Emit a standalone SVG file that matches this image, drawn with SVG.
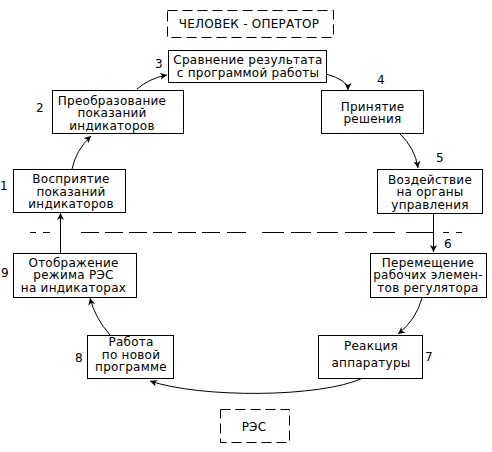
<svg xmlns="http://www.w3.org/2000/svg" width="492" height="452" viewBox="0 0 492 452">
<style>
.bx{fill:#fff;stroke:#000;stroke-width:1}
.dbx{fill:none;stroke:#000;stroke-width:1;stroke-dasharray:10 5}
.t{font-family:"DejaVu Sans","Liberation Sans",sans-serif;font-size:12px;letter-spacing:0.25px;fill:#000;text-anchor:middle}
.c{fill:none;stroke:#000;stroke-width:1}
.ar{marker-end:url(#ah)}
</style>
<defs>
<marker id="ah" markerUnits="userSpaceOnUse" markerWidth="8" markerHeight="8" refX="7" refY="3.5" orient="auto">
<path d="M0,0 L7,3.5 L0,7 L2,3.5 z" fill="#000"/>
</marker>
</defs>
<rect width="492" height="452" fill="#fff"/>

<g id="operator">
<rect class="dbx" x="167.5" y="10.5" width="166" height="27"/>
<text class="t" x="249" y="28">ЧЕЛОВЕК - ОПЕРАТОР</text>
</g>

<g id="res">
<rect class="dbx" x="220.5" y="409.5" width="69" height="33"/>
<text class="t" x="254" y="431">РЭС</text>
</g>

<g id="divider">
<path class="c" d="M30,232.5h6M43,232.5h7M81,232.5h18M105,232.5h18M129,232.5h18M153,232.5h19M178,232.5h18M202,232.5h18M227,232.5h19M262,232.5h22M291,232.5h20M317,232.5h21M345,232.5h22M373,232.5h22M406,232.5h27M443,232.5h6M456,232.5h6"/>
</g>

<g id="connectors">
<path class="c ar" d="M72,169 Q76,150 91,136"/>
<path class="c ar" d="M137,89 Q150,78 167,75"/>
<path class="c ar" d="M326,74 Q348,80 348,90"/>
<path class="c ar" d="M400,134 Q415,148 418,168"/>
<path class="c ar" d="M433.5,213 L433.5,252"/>
<path class="c ar" d="M422,298 Q416,320 398,334"/>
<path class="c ar" d="M363,378 C320,398 200,398 150,381"/>
<path class="c ar" d="M110,335 Q95,318 90,298"/>
<path class="c ar" d="M60.5,253 L60.5,213"/>
</g>

<g id="n3">
<rect class="bx" x="168.5" y="50.5" width="158" height="32"/>
<text class="t" x="248" y="64">Сравнение результата</text>
<text class="t" x="248" y="76.5">с программой работы</text>
<text class="t" x="159" y="68">3</text>
</g>

<g id="n2">
<rect class="bx" x="52.5" y="90.5" width="131" height="43"/>
<text class="t" x="112" y="104.5">Преобразование</text>
<text class="t" x="112" y="117">показаний</text>
<text class="t" x="112" y="129.5">индикаторов</text>
<text class="t" x="40" y="112">2</text>
</g>

<g id="n4">
<rect class="bx" x="321.5" y="90.5" width="102" height="43"/>
<text class="t" x="372.5" y="110.5">Принятие</text>
<text class="t" x="372.5" y="123">решения</text>
<text class="t" x="381" y="84">4</text>
</g>

<g id="n1">
<rect class="bx" x="13.5" y="169.5" width="112" height="43"/>
<text class="t" x="71" y="183">Восприятие</text>
<text class="t" x="71" y="195.5">показаний</text>
<text class="t" x="71" y="208">индикаторов</text>
<text class="t" x="4" y="190">1</text>
</g>

<g id="n5">
<rect class="bx" x="377.5" y="169.5" width="105" height="44"/>
<text class="t" x="430" y="183.5">Воздействие</text>
<text class="t" x="430" y="196">на органы</text>
<text class="t" x="430" y="208.5">управления</text>
<text class="t" x="440" y="162">5</text>
</g>

<g id="n9">
<rect class="bx" x="13.5" y="253.5" width="123" height="44"/>
<text class="t" x="73.5" y="266.5">Отображение</text>
<text class="t" x="73.5" y="279">режима РЭС</text>
<text class="t" x="73.5" y="291.5">на индикаторах</text>
<text class="t" x="5" y="277">9</text>
</g>

<g id="n6">
<rect class="bx" x="370.5" y="253.5" width="116" height="44"/>
<text class="t" x="428" y="266.5">Перемещение</text>
<text class="t" x="428" y="279">рабочих элемен-</text>
<text class="t" x="428" y="291.5">тов регулятора</text>
<text class="t" x="448" y="248">6</text>
</g>

<g id="n8">
<rect class="bx" x="87.5" y="335.5" width="86" height="43"/>
<text class="t" x="131" y="346">Работа</text>
<text class="t" x="131" y="358.5">по новой</text>
<text class="t" x="131" y="371">программе</text>
<text class="t" x="79" y="362">8</text>
</g>

<g id="n7">
<rect class="bx" x="318.5" y="335.5" width="104" height="43"/>
<text class="t" x="371" y="350">Реакция</text>
<text class="t" x="371" y="366.5">аппаратуры</text>
<text class="t" x="429" y="361">7</text>
</g>
</svg>
